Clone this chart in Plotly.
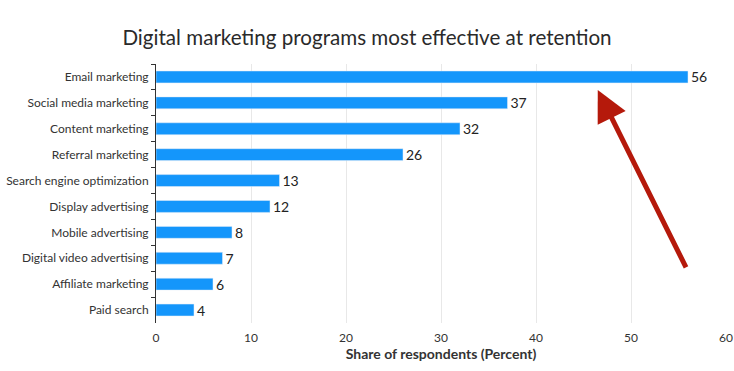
import plotly.graph_objects as go

categories = ["Email marketing", "Social media marketing", "Content marketing",
              "Referral marketing", "Search engine optimization", "Display advertising",
              "Mobile advertising", "Digital video advertising", "Affiliate marketing",
              "Paid search"]
values = [56, 37, 32, 26, 13, 12, 8, 7, 6, 4]
x_ticks = [0, 10, 20, 30, 40, 50, 60]

font = "Lato, 'Open Sans', sans-serif"

fig = go.Figure(go.Bar(
    x=values, y=categories, orientation="h",
    marker=dict(color="#1496fb"),
    width=0.46,
    text=[str(v) for v in values], textposition="outside",
    textfont=dict(size=14, color="#222", family=font),
    constraintext="none",
    cliponaxis=False,
))

fig.update_layout(
    width=734, height=371,
    margin=dict(l=156, r=8, t=64, b=48),
    paper_bgcolor="white", plot_bgcolor="white",
    title=dict(text="Digital marketing programs most effective at retention",
               x=0.5, xanchor="center", y=0.897, yanchor="middle",
               font=dict(size=20.6, color="#2a2a2a", family=font)),
    showlegend=False,
    font=dict(family=font, color="#333"),
    xaxis=dict(range=[0, 60], tickvals=x_ticks, showgrid=True, gridcolor="#e8e8e8",
               zeroline=False, showline=False, ticks="", automargin=False,
               ticklabeloverflow="allow", ticklabelstandoff=6,
               tickfont=dict(size=12, color="#333"),
               title=dict(text="<b>Share of respondents (Percent)</b>",
                          font=dict(size=14, color="#333"), standoff=4)),
    yaxis=dict(range=[9.5, -0.5], showline=True, linecolor="#333", linewidth=1,
               ticks="outside", tickson="boundaries", ticklen=4, tickcolor="#333",
               automargin=False, ticklabelstandoff=4,
               tickfont=dict(size=12, color="#333"), showgrid=False),
)

fig.add_annotation(
    x=46.5, y=0.9, xref="x", yref="paper",
    ax=89, ay=179, axref="pixel", ayref="pixel",
    showarrow=True, arrowhead=2, arrowsize=1.25, arrowwidth=5,
    arrowcolor="#b5190b", text="",
)

fig.write_html("out.html", config={"displayModeBar": False},
               post_script="document.body.style.margin='0';")
